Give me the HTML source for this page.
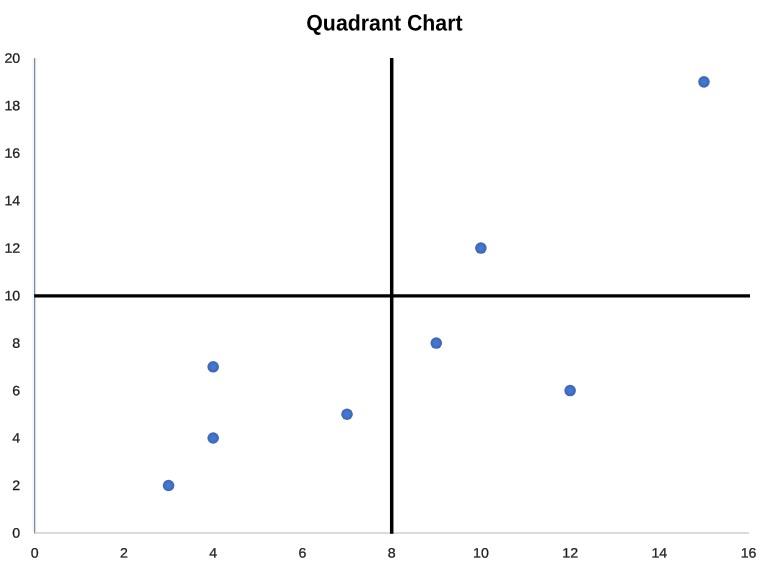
<!DOCTYPE html>
<html lang="en">
<head>
<meta charset="utf-8">
<title>Quadrant Chart</title>
<style>
html,body{margin:0;padding:0;background:#fff;}
body{width:768px;height:563px;overflow:hidden;}
svg{display:block;}
text{font-family:"Liberation Sans",Arial,sans-serif;}
.title{font-weight:bold;font-size:22.5px;fill:#000;}
.lbl{font-size:13.6px;fill:#1a1a1a;stroke:#1a1a1a;stroke-width:0.25px;}
</style>
</head>
<body>
<svg width="768" height="563" viewBox="0 0 768 563">
<defs>
<radialGradient id="dot" cx="0.5" cy="0.5" r="0.5">
<stop offset="0" stop-color="#3e7bda"/>
<stop offset="0.5" stop-color="#4074cc"/>
<stop offset="0.8" stop-color="#4167b8"/>
<stop offset="1" stop-color="#4668b2"/>
</radialGradient>
</defs>
<rect x="0" y="0" width="768" height="563" fill="#ffffff"/>
<text class="title" transform="translate(306.3 30.5) rotate(0.03) scale(0.947 1)" text-anchor="start">Quadrant Chart</text>
<line x1="34.5" y1="59.1" x2="34.5" y2="532.0" stroke="#edf6fb" stroke-width="4"/>
<line x1="34.6" y1="58.1" x2="34.6" y2="533.6" stroke="#7f8b99" stroke-width="1.2"/>
<line x1="34.7" y1="533.0" x2="749.0" y2="533.0" stroke="#cfcfcf" stroke-width="1.5"/>
<g class="lbl" text-anchor="end">
<text transform="translate(20.2 537.60) rotate(0.03) scale(1.045 1)">0</text>
<text transform="translate(20.2 490.11) rotate(0.03) scale(1.045 1)">2</text>
<text transform="translate(20.2 442.62) rotate(0.03) scale(1.045 1)">4</text>
<text transform="translate(20.2 395.13) rotate(0.03) scale(1.045 1)">6</text>
<text transform="translate(20.2 347.64) rotate(0.03) scale(1.045 1)">8</text>
<text transform="translate(20.2 300.15) rotate(0.03) scale(1.045 1)">10</text>
<text transform="translate(20.2 252.66) rotate(0.03) scale(1.045 1)">12</text>
<text transform="translate(20.2 205.17) rotate(0.03) scale(1.045 1)">14</text>
<text transform="translate(20.2 157.68) rotate(0.03) scale(1.045 1)">16</text>
<text transform="translate(20.2 110.19) rotate(0.03) scale(1.045 1)">18</text>
<text transform="translate(20.2 62.70) rotate(0.03) scale(1.045 1)">20</text>
</g>
<g class="lbl" text-anchor="middle">
<text transform="translate(34.70 557.6) rotate(0.03) scale(1.045 1)">0</text>
<text transform="translate(123.94 557.6) rotate(0.03) scale(1.045 1)">2</text>
<text transform="translate(213.18 557.6) rotate(0.03) scale(1.045 1)">4</text>
<text transform="translate(302.41 557.6) rotate(0.03) scale(1.045 1)">6</text>
<text transform="translate(391.65 557.6) rotate(0.03) scale(1.045 1)">8</text>
<text transform="translate(480.89 557.6) rotate(0.03) scale(1.045 1)">10</text>
<text transform="translate(570.12 557.6) rotate(0.03) scale(1.045 1)">12</text>
<text transform="translate(659.36 557.6) rotate(0.03) scale(1.045 1)">14</text>
<text transform="translate(748.60 557.6) rotate(0.03) scale(1.045 1)">16</text>
</g>
<line x1="391.7" y1="58.1" x2="391.7" y2="533.8" stroke="#000" stroke-width="3.5"/>
<line x1="34.2" y1="295.9" x2="750" y2="295.9" stroke="#000" stroke-width="3.4"/>
<g fill="url(#dot)">
<circle cx="168.56" cy="485.51" r="5.8"/>
<circle cx="213.18" cy="438.02" r="5.8"/>
<circle cx="213.18" cy="366.79" r="5.8"/>
<circle cx="347.03" cy="414.27" r="5.8"/>
<circle cx="436.27" cy="343.04" r="5.8"/>
<circle cx="480.89" cy="248.06" r="5.8"/>
<circle cx="570.12" cy="390.53" r="5.8"/>
<circle cx="703.98" cy="81.85" r="5.8"/>
</g>
</svg>
</body>
</html>
